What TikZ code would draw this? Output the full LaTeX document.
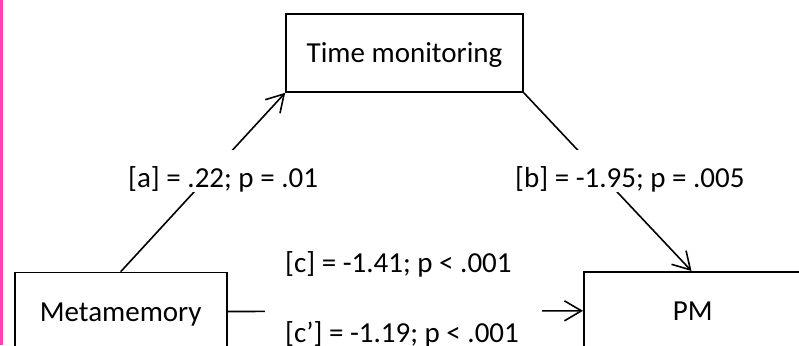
\documentclass[tikz,border=0pt]{standalone}
\usepackage{fontspec}
\setmainfont{Carlito}
\usetikzlibrary{arrows.meta}
\definecolor{edgepink}{RGB}{255,64,180}
\begin{document}
\begin{tikzpicture}[x=1pt,y=-1pt,
  every node/.style={font=\fontsize{29}{34}\selectfont},
  varbox/.style={draw=black, line width=1.6pt, rectangle, minimum height=78pt,
    text height=25pt, text depth=5pt, inner sep=0pt},
  conn/.style={draw=black, line width=1.6pt},
  arr/.style={conn, -{Straight Barb[length=17pt,width=20pt,line width=1.6pt]}},
  lbl/.style={fill=white, inner ysep=0pt, inner xsep=0pt, text height=37pt, text depth=5pt, anchor=base west}
]
\useasboundingbox (0,0) rectangle (799,345);
\clip (0,0) rectangle (799,345);
\fill[white] (0,0) rectangle (799,345);
\fill[edgepink] (0,0) rectangle (2.7,345);

\node[varbox, minimum width=237pt] (time) at (404.5,53) {Time monitoring};
\node[varbox, minimum width=212pt, anchor=north] (meta) at (120.7,271.7) {Metamemory};
\node[varbox, minimum width=218pt, anchor=north west] (pm) at (583,271) {PM};

\draw[arr] (meta.north) -- (time.south west);
\draw[arr] (time.south east) -- ([xshift=-1.3pt]pm.north);
\draw[arr] (meta.east) -- (pm.west);

\node[lbl] (la) at (128,187) {[a] = .22; p = .01};
\node[lbl] (lb) at (515,187) {[b] = -1.95; p = .005};
\node[lbl] (lc) at (265,272.7) {\hspace*{20pt}[c] = -1.41; p < .001\hspace*{25pt}};
\node[lbl] (lcp) at (265,342) {\hspace*{20pt}[c’] = -1.19; p < .001\hspace*{23pt}};
\end{tikzpicture}
\end{document}
